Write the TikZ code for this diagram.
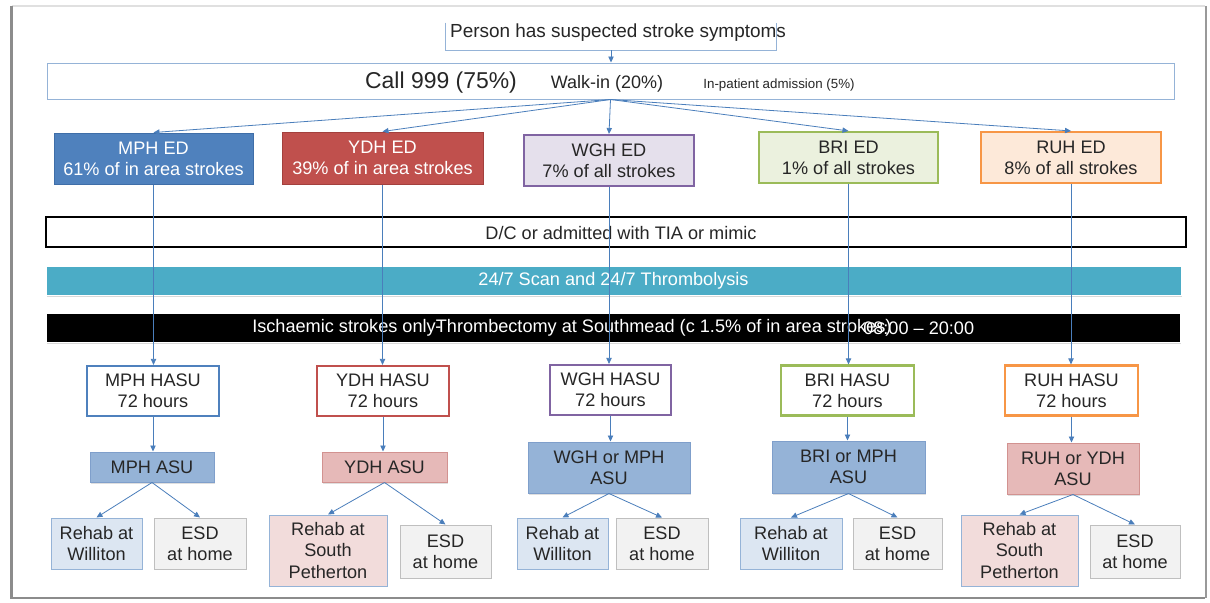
\documentclass[tikz,border=0pt]{standalone}
\usepackage{fontspec}
\setmainfont{Liberation Sans}
\usetikzlibrary{arrows.meta,shadows,calc}
\definecolor{txtc}{HTML}{262626}
\definecolor{arrowc}{HTML}{4A7EBB}
\definecolor{lineblue}{HTML}{95B3D7}
\definecolor{mphfill}{HTML}{4F81BD}
\definecolor{mphdraw}{HTML}{3F6EA8}
\definecolor{ydhfill}{HTML}{C0504D}
\definecolor{ydhdraw}{HTML}{A3403D}
\definecolor{wghdraw}{HTML}{8064A2}
\definecolor{wghfill}{HTML}{E5E0EC}
\definecolor{bridraw}{HTML}{9BBB59}
\definecolor{brifill}{HTML}{EBF1DE}
\definecolor{ruhdraw}{HTML}{F79646}
\definecolor{ruhfill}{HTML}{FDE9D9}
\definecolor{scanfill}{HTML}{4BACC6}
\definecolor{asublue}{HTML}{95B3D7}
\definecolor{asubluedraw}{HTML}{7F9FCB}
\definecolor{asured}{HTML}{E6B9B8}
\definecolor{asureddraw}{HTML}{D29290}
\definecolor{rehabblue}{HTML}{DCE6F2}
\definecolor{rehabred}{HTML}{F2DCDB}
\definecolor{esdfill}{HTML}{F2F2F2}
\definecolor{esddraw}{HTML}{BFBFBF}
\newcommand\ftxt{\fontsize{13.6}{15.8}\selectfont}
\begin{document}
\begin{tikzpicture}[x=0.75pt,y=-0.75pt,
  txt/.style={font=\ftxt, text=txtc, align=center, inner sep=0pt},
  bx/.style={txt, rectangle, line width=0.75pt},
  edsolid/.style={bx, text=white, line width=0.75pt},
  edlight/.style={bx, line width=1.6pt},
  hasu/.style={bx, fill=white, line width=1.6pt},
  asub/.style={bx, fill=asublue, draw=asubluedraw, drop shadow={shadow xshift=1pt, shadow yshift=-1.2pt, opacity=0.25}},
  asur/.style={bx, fill=asured, draw=asureddraw, drop shadow={shadow xshift=1pt, shadow yshift=-1.2pt, opacity=0.25}},
  rehabb/.style={bx, fill=rehabblue, draw=lineblue},
  rehabr/.style={bx, fill=rehabred, draw=lineblue},
  esd/.style={bx, fill=esdfill, draw=esddraw},
  bar/.style={bx, drop shadow={shadow xshift=0.8pt, shadow yshift=-1.5pt, opacity=0.3}},
  conn/.style={draw=arrowc, line width=0.6pt, -{Triangle[length=4.5pt,width=4pt]}}
]
\useasboundingbox (0,0) rectangle (1210,603);
\fill[white] (0,0) rectangle (1210,603);
% outer frame
\draw[black!12, line width=1pt] (11.5,6) -- (1205,6);
\draw[black!45, line width=1.8pt] (11.5,6) -- (11.5,598) -- (1205,598);
\draw[black!40, line width=2.2pt] (1206,6) -- (1206,598);

% top boxes
\node[minimum width=330*0.75pt, minimum height=25*0.75pt, inner sep=0pt] (person) at (611,37.5) {};
\draw[lineblue, line width=0.75pt] ($(person.north west)+(0,-2)$) -- (person.south west) -- (person.south east) -- ($(person.north east)+(0,-2)$);
\node[txt, font=\fontsize{14.2}{16}\selectfont] (persontxt) at (618,33) {Person has suspected stroke symptoms};

\node[bx, draw=lineblue, minimum width=1127*0.75pt, minimum height=36*0.75pt] (call) at (610.5,81) {};
\node[txt, font=\fontsize{17.2}{20}\selectfont] (call999) at (441,83) {Call 999 (75\%)};
\node[txt, font=\fontsize{13.5}{16}\selectfont] (walkin) at (607,84) {Walk-in (20\%)};
\node[txt, font=\fontsize{10}{12}\selectfont] (inpat) at (779,85) {In-patient admission (5\%)};

% ED boxes
\node[edsolid, fill=mphfill, draw=mphdraw, minimum width=199*0.75pt, minimum height=51*0.75pt] (mphed) at (153.5,158.5) {MPH ED\\61\% of in area strokes};
\node[edsolid, fill=ydhfill, draw=ydhdraw, minimum width=201*0.75pt, minimum height=52*0.75pt] (ydhed) at (382.5,158) {YDH ED\\39\% of in area strokes};
\node[edlight, fill=wghfill, draw=wghdraw, minimum width=170*0.75pt, minimum height=51*0.75pt] (wghed) at (609,160.5) {WGH ED\\7\% of all strokes};
\node[edlight, fill=brifill, draw=bridraw, minimum width=179*0.75pt, minimum height=51*0.75pt] (bried) at (848.5,157.5) {BRI ED\\1\% of all strokes};
\node[edlight, fill=ruhfill, draw=ruhdraw, minimum width=180*0.75pt, minimum height=51*0.75pt] (ruhed) at (1071,157.5) {RUH ED\\8\% of all strokes};

% bars
\node[bx, fill=white, draw=black, line width=1.5pt, minimum width=1140*0.75pt, minimum height=30*0.75pt] (dcbar) at (616,232) {};
\node[txt] (dctxt) at (621,233) {D/C or admitted with TIA or mimic};
\node[bar, fill=scanfill, draw=white, minimum width=1135*0.75pt, minimum height=29*0.75pt, text=white] (scanbar) at (613.5,280.5) {24/7 Scan and 24/7 Thrombolysis};
\node[bar, fill=black, draw=white, minimum width=1134*0.75pt, minimum height=29*0.75pt] (thrombar) at (613,327.5) {};
\node[txt, text=white, anchor=east] (thromA) at (436,328) {Ischaemic strokes only};
\node[txt, text=white, anchor=west] (thromB) at (435,328) {-\kern-0.3em Thrombectomy at Southmead (c 1.5\% of in area strokes)};
\node[txt, text=white, anchor=west] (thromC) at (863,328) {08:00 – 20:00};

% HASU
\node[hasu, draw=mphfill, minimum width=132*0.75pt, minimum height=50*0.75pt] (mphhasu) at (153,391) {MPH HASU\\72 hours};
\node[hasu, draw=ydhfill, minimum width=132*0.75pt, minimum height=50*0.75pt] (ydhhasu) at (383,391) {YDH HASU\\72 hours};
\node[hasu, draw=wghdraw, minimum width=121*0.75pt, minimum height=50*0.75pt] (wghhasu) at (610.5,390) {WGH HASU\\72 hours};
\node[hasu, draw=bridraw, minimum width=133*0.75pt, minimum height=50*0.75pt] (brihasu) at (847.5,390.5) {BRI HASU\\72 hours};
\node[hasu, draw=ruhdraw, minimum width=133*0.75pt, minimum height=50*0.75pt] (ruhhasu) at (1071.5,390.5) {RUH HASU\\72 hours};

% ASU
\node[asub, minimum width=124*0.75pt, minimum height=30*0.75pt] (mphasu) at (152,467) {MPH ASU};
\node[asur, minimum width=125*0.75pt, minimum height=30*0.75pt] (ydhasu) at (384.5,467) {YDH ASU};
\node[asub, minimum width=162*0.75pt, minimum height=51*0.75pt] (wghasu) at (609,467.5) {WGH or MPH\\ASU};
\node[asub, minimum width=153*0.75pt, minimum height=52*0.75pt] (briasu) at (848.5,467) {BRI or MPH\\ASU};
\node[asur, minimum width=132*0.75pt, minimum height=51*0.75pt] (ruhasu) at (1073,468.5) {RUH or YDH\\ASU};

% bottom boxes
\node[rehabb, minimum width=91*0.75pt, minimum height=51*0.75pt] (rw1) at (96.5,543.5) {Rehab at\\Williton};
\node[esd, minimum width=92*0.75pt, minimum height=51*0.75pt] (esd1) at (200,543.5) {ESD\\at home};
\node[rehabr, minimum width=118*0.75pt, minimum height=71*0.75pt] (rsp2) at (328,550.5) {Rehab at\\South\\Petherton};
\node[esd, minimum width=91*0.75pt, minimum height=53*0.75pt] (esd2) at (445.5,551.5) {ESD\\at home};
\node[rehabb, minimum width=91*0.75pt, minimum height=51*0.75pt] (rw3) at (562.5,543.5) {Rehab at\\Williton};
\node[esd, minimum width=92*0.75pt, minimum height=51*0.75pt] (esd3) at (662,543.5) {ESD\\at home};
\node[rehabb, minimum width=102*0.75pt, minimum height=51*0.75pt] (rw4) at (791,543.5) {Rehab at\\Williton};
\node[esd, minimum width=89*0.75pt, minimum height=51*0.75pt] (esd4) at (897.5,543.5) {ESD\\at home};
\node[rehabr, minimum width=117*0.75pt, minimum height=71*0.75pt] (rsp5) at (1019.5,550.5) {Rehab at\\South\\Petherton};
\node[esd, minimum width=90*0.75pt, minimum height=53*0.75pt] (esd5) at (1135,551.5) {ESD\\at home};

% connectors
\draw[conn] (person.south) -- (person.south |- call.north);
\foreach \n in {mphed,ydhed,wghed,bried,ruhed}{
  \draw[conn] (call.south) -- (\n.north);
}
\draw[conn] (mphed.south) -- (mphed.south |- mphhasu.north);
\draw[conn] (ydhed.south) -- (ydhed.south |- ydhhasu.north);
\draw[conn] (wghed.south) -- (wghed.south |- wghhasu.north);
\draw[conn] (bried.south) -- (bried.south |- brihasu.north);
\draw[conn] (ruhed.south) -- (ruhed.south |- ruhhasu.north);
\draw[conn] (mphhasu.south) -- (mphhasu.south |- mphasu.north);
\draw[conn] (ydhhasu.south) -- (ydhhasu.south |- ydhasu.north);
\draw[conn] (wghhasu.south) -- (wghhasu.south |- wghasu.north);
\draw[conn] (brihasu.south) -- (brihasu.south |- briasu.north);
\draw[conn] (ruhhasu.south) -- (ruhhasu.south |- ruhasu.north);
\draw[conn] (mphasu.south) -- (rw1.north);
\draw[conn] (mphasu.south) -- (esd1.north);
\draw[conn] (ydhasu.south) -- (rsp2.north);
\draw[conn] (ydhasu.south) -- (esd2.north);
\draw[conn] (wghasu.south) -- (rw3.north);
\draw[conn] (wghasu.south) -- (esd3.north);
\draw[conn] (briasu.south) -- (rw4.north);
\draw[conn] (briasu.south) -- (esd4.north);
\draw[conn] (ruhasu.south) -- (rsp5.north);
\draw[conn] (ruhasu.south) -- (esd5.north);
\end{tikzpicture}
\end{document}
